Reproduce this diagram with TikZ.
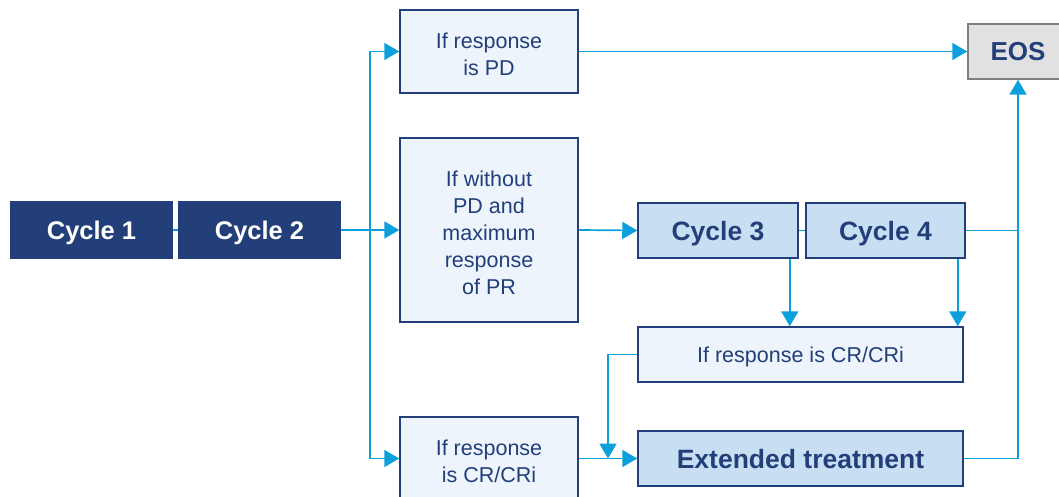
\documentclass[tikz,border=0pt]{standalone}
\usepackage{fontspec}
\setmainfont{Liberation Sans}
\usetikzlibrary{arrows.meta,calc}
\definecolor{navy}{HTML}{223F7A}
\definecolor{lightfill}{HTML}{EDF4FC}
\definecolor{midfill}{HTML}{C8DFF3}
\definecolor{cyanline}{HTML}{0BA0DB}
\definecolor{eosfill}{HTML}{E1E1E1}
\definecolor{eosdraw}{HTML}{7F7F7F}
\newcommand{\topstrut}{\rule{0pt}{21pt}}
\tikzset{
  x=1pt,y=-1pt,
  basebox/.style={draw=navy, line width=1.5pt, align=center, inner sep=0pt, text=navy, text depth=0pt},
  lightbox/.style={basebox, fill=lightfill, font=\fontsize{21.5}{27}\selectfont},
  midbox/.style={basebox, fill=midfill, font=\bfseries\fontsize{26.5}{30}\selectfont},
  darkbox/.style={basebox, fill=navy, text=white, font=\bfseries\fontsize{25.5}{30}\selectfont},
  eosbox/.style={basebox, draw=eosdraw, fill=eosfill, font=\bfseries\fontsize{26}{30}\selectfont},
  conn/.style={draw=cyanline, line width=1.7pt},
  arr/.style={conn, -{Triangle[length=15pt,width=17pt]}},
}
\begin{document}
\begin{tikzpicture}
\useasboundingbox (0,0) rectangle (1059,497);
\node[darkbox, minimum width=161pt, minimum height=56pt] (c1) at (91.5,230) {Cycle 1};
\node[darkbox, minimum width=161pt, minimum height=56pt] (c2) at (259.5,230) {Cycle 2};
\node[lightbox, minimum width=178pt, minimum height=83pt] (pd) at (489,51.5) {\topstrut If response\\is PD};
\node[lightbox, minimum width=178pt, minimum height=184pt] (mid) at (489,230) {\topstrut If without\\PD and\\maximum\\response\\of PR};
\node[lightbox, minimum width=178pt, minimum height=83pt] (crb) at (489,458.5) {\topstrut If response\\is CR/CRi};
\node[midbox, minimum width=160pt, minimum height=55pt] (c3) at (718,230.5) {Cycle 3};
\node[midbox, minimum width=159pt, minimum height=55pt] (c4) at (885.5,230.5) {Cycle 4};
\node[lightbox, minimum width=325pt, minimum height=55pt] (cr) at (800.5,354.5) {If response is CR/CRi};
\node[midbox, minimum width=325pt, minimum height=55pt] (ext) at (800.5,458.5) {Extended treatment};
\node[eosbox, minimum width=100pt, minimum height=55pt] (eos) at (1018,51.5) {EOS};
\coordinate (j1) at (370,230);
\coordinate (m) at (608,458.5);
\coordinate (j2) at (1018,230.5);
% connectors
\draw[conn] (c1.east) -- (c2.west);
\draw[arr] (c2.east) -- (mid.west);
\draw[arr] (j1) |- (pd.west);
\draw[arr] (j1) |- (crb.west);
\draw[arr] (pd.east) -- (eos.west);
\draw[arr] (mid.east) -- (c3.west);
\draw[conn] (c3.east) -- (c4.west);
\draw[conn] (c4.east) -- (j2);
\draw[arr] (ext.east) -| (eos.south);
\draw[arr] ([xshift=-9pt]c3.south east) -- ([xshift=-9pt]c3.south east |- cr.north);
\draw[arr] ([xshift=-8pt]c4.south east) -- ([xshift=-8pt]c4.south east |- cr.north);
\draw[arr] (cr.west) -| (m);
\draw[arr] (crb.east) -- (ext.west);
\end{tikzpicture}
\end{document}
